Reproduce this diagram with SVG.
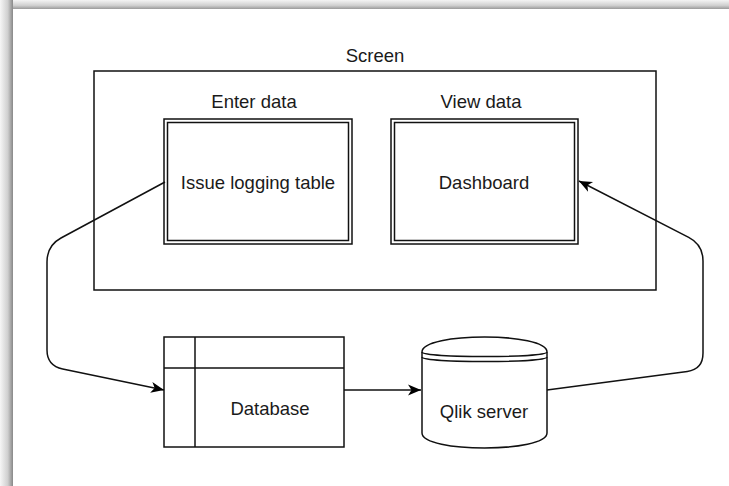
<svg xmlns="http://www.w3.org/2000/svg" width="729" height="486" viewBox="0 0 729 486">
  <defs>
    <linearGradient id="gTop" x1="0" y1="0" x2="0" y2="1">
      <stop offset="0" stop-color="#f4f4f4"/>
      <stop offset="0.6" stop-color="#d0d0d0"/>
      <stop offset="1" stop-color="#9a9a9a"/>
    </linearGradient>
    <linearGradient id="gLeft" x1="0" y1="0" x2="1" y2="0">
      <stop offset="0" stop-color="#f6f6f6"/>
      <stop offset="0.6" stop-color="#cfcfcf"/>
      <stop offset="1" stop-color="#888888"/>
    </linearGradient>
    <marker id="arrow" markerUnits="userSpaceOnUse" markerWidth="16" markerHeight="14" viewBox="-14 -7 16 14" refX="0" refY="0" orient="auto">
      <path d="M0,0 L-13,-5.5 L-9.5,0 L-13,5.5 Z" fill="#000"/>
    </marker>
    <style>
      .ln { fill: none; stroke: #111; stroke-width: 1.5; }
      .box { fill: #fff; stroke: #111; stroke-width: 1.5; }
      .txt { font-family: "Liberation Sans", Arial, sans-serif; font-size: 18.5px; fill: #1a1a1a; text-anchor: middle; }
    </style>
  </defs>

  <rect x="0" y="0" width="729" height="486" fill="#fff"/>
  <rect x="0" y="0" width="729" height="9" fill="url(#gTop)"/>
  <rect x="0" y="0" width="13" height="486" fill="url(#gLeft)"/>

  <g id="screen">
    <rect class="box" x="94" y="71" width="562" height="219"/>
    <text class="txt" x="375" y="62">Screen</text>
  </g>

  <g id="issue-logging-table">
    <text class="txt" x="254" y="108">Enter data</text>
    <rect class="box" x="164" y="119" width="188" height="125"/>
    <rect class="ln" x="167.5" y="122.5" width="181" height="118"/>
    <text class="txt" x="258" y="189">Issue logging table</text>
  </g>

  <g id="dashboard">
    <text class="txt" x="481" y="108">View data</text>
    <rect class="box" x="391" y="119" width="187" height="125"/>
    <rect class="ln" x="394.5" y="122.5" width="180" height="118"/>
    <text class="txt" x="484" y="189">Dashboard</text>
  </g>

  <g id="database">
    <rect class="box" x="164" y="337" width="180" height="110"/>
    <line class="ln" x1="195" y1="337" x2="195" y2="447"/>
    <line class="ln" x1="164" y1="368" x2="344" y2="368"/>
    <text class="txt" x="270" y="415">Database</text>
  </g>

  <g id="qlik-server">
    <path class="box" d="M422,352 C422,332 547,332 547,352 L547,433 C547,453 422,453 422,433 Z"/>
    <path class="ln" d="M422,352 C422,358 547,358 547,352 M422,357 C422,363 547,363 547,357"/>
    <text class="txt" x="484" y="418">Qlik server</text>
  </g>

  <g id="connectors">
    <path class="ln" marker-end="url(#arrow)" d="M165,182 L61,238 Q47,245.6 47,262 L47,350 Q47,365.7 62.7,369 L164,390"/>
    <path class="ln" marker-end="url(#arrow)" d="M344,390 L421,390"/>
    <path class="ln" marker-end="url(#arrow)" d="M547,390 L687.3,371.4 Q703,369.3 703,353 L703,261 Q703,244.7 688.7,237.4 L579,181"/>
  </g>
</svg>
